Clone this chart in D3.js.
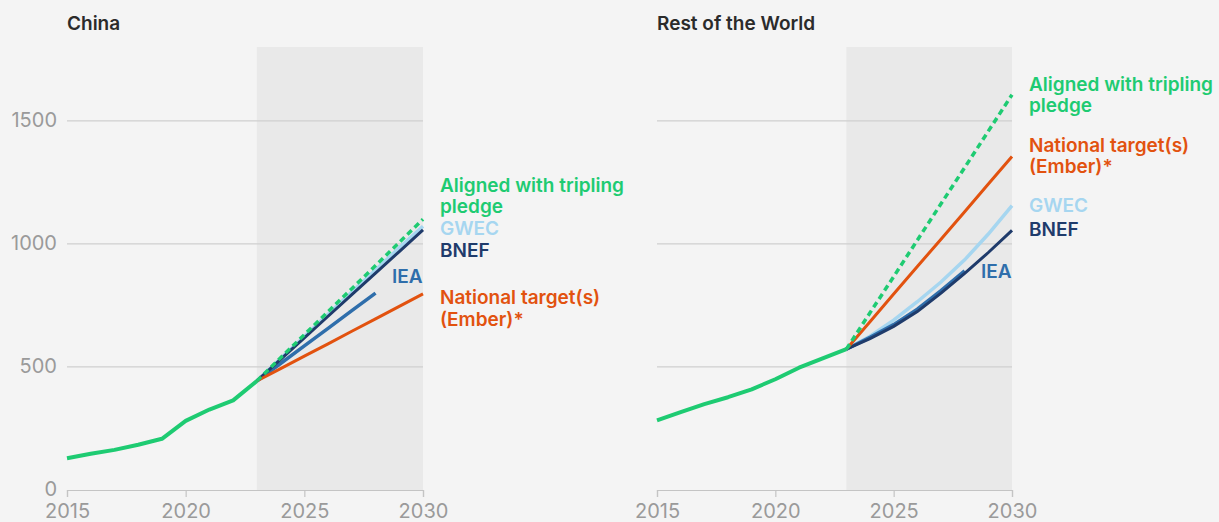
<!DOCTYPE html>
<html>
<head>
<meta charset="utf-8">
<script src="https://cdn.jsdelivr.net/npm/d3@7"></script>
<style>
  body { margin: 0; background: #f4f4f4; }
  svg { display: block; font-family: Inter, "Open Sans", sans-serif; }
</style>
</head>
<body>
<svg width="1219" height="522"></svg>
<script>
// data: wind capacity (GW)
const histYears = [2015, 2016, 2017, 2018, 2019, 2020, 2021, 2022, 2023];
const chinaHist = [129, 147, 163, 184, 208, 281, 327, 364, 443];
const rowHist = [283, 316, 349, 377, 409, 450, 497, 535, 572];

const projYears = [2023, 2024, 2025, 2026, 2027, 2028, 2029, 2030];
const chinaGwec = [443, 534, 624, 714, 804, 894, 984, 1072];
const chinaBnef = [443, 531, 618, 706, 794, 881, 969, 1057];
const chinaIea = [443, 514, 586, 657, 729, 800];
const chinaNational = [443, 493, 544, 594, 645, 695, 746, 797];
const chinaTripling = [443, 537, 631, 725, 818, 912, 1006, 1100];

const rowGwec = [572, 625, 690, 765, 845, 935, 1040, 1155];
const rowBnef = [572, 615, 665, 725, 800, 880, 965, 1055];
const rowIea = [572, 620, 672, 735, 810, 890];
const rowNational = [572, 684, 796, 908, 1019, 1131, 1243, 1355];
const rowTripling = [572, 720, 867, 1015, 1163, 1310, 1458, 1606];

const yTicks = [0, 500, 1000, 1500];
const xTicks = [2015, 2020, 2025, 2030];

const colors = {
  tripling: "#1ecb72",
  gwec: "#a6d6f0",
  bnef: "#1f3b6b",
  iea: "#2f6eab",
  national: "#e2520f",
  hist: "#1ecb72"
};

const svg = d3.select("svg");
const y = d3.scaleLinear().domain([0, 1800]).range([490, 47]);

const panels = [
  {
    title: "China", x0: 67, x1: 423, yLabels: true,
    hist: chinaHist, gwec: chinaGwec, bnef: chinaBnef, iea: chinaIea,
    national: chinaNational, tripling: chinaTripling,
    labels: [
      {text: "Aligned with tripling", y: 186, c: "tripling"},
      {text: "pledge", y: 207, c: "tripling"},
      {text: "GWEC", y: 229, c: "gwec"},
      {text: "BNEF", y: 251, c: "bnef"},
      {text: "National target(s)", y: 298, c: "national"},
      {text: "(Ember)*", y: 320, c: "national"}
    ],
    ieaLabel: {x: 392, y: 277}
  },
  {
    title: "Rest of the World", x0: 657, x1: 1012, yLabels: false,
    hist: rowHist, gwec: rowGwec, bnef: rowBnef, iea: rowIea,
    national: rowNational, tripling: rowTripling,
    labels: [
      {text: "Aligned with tripling", y: 85, c: "tripling"},
      {text: "pledge", y: 106, c: "tripling"},
      {text: "National target(s)", y: 146, c: "national"},
      {text: "(Ember)*", y: 167, c: "national"},
      {text: "GWEC", y: 206, c: "gwec"},
      {text: "BNEF", y: 230, c: "bnef"}
    ],
    ieaLabel: {x: 981, y: 272}
  }
];

panels.forEach(p => {
  const x = d3.scaleLinear().domain([2015, 2030]).range([p.x0, p.x1]);
  const g = svg.append("g");

  // title
  g.append("text")
    .attr("x", p.x0).attr("y", 30)
    .attr("font-size", 19).attr("font-weight", 600)
    .attr("fill", "#2b2b2b")
    .text(p.title);

  // projection shading
  g.append("rect")
    .attr("x", x(2023)).attr("y", y(1800))
    .attr("width", x(2030) - x(2023)).attr("height", y(0) - y(1800))
    .attr("fill", "#e9e9e9");

  // grid
  g.selectAll(".grid").data(yTicks.slice(1)).enter().append("line")
    .attr("x1", p.x0).attr("x2", p.x1)
    .attr("y1", d => y(d)).attr("y2", d => y(d))
    .attr("stroke", "#cfcfcf").attr("stroke-width", 1.2);

  if (p.yLabels) {
    g.selectAll(".ylab").data(yTicks).enter().append("text")
      .attr("x", p.x0 - 10).attr("y", d => y(d) + 6)
      .attr("text-anchor", "end")
      .attr("font-size", 20).attr("fill", "#9a9a9a")
      .text(d => d);
  }

  // x axis
  const xAxis = d3.axisBottom(x).tickValues(xTicks).tickFormat(d3.format("d"))
    .tickSize(7).tickPadding(7);
  const ax = g.append("g").attr("transform", `translate(0,${y(0)})`).call(xAxis);
  ax.select(".domain").attr("stroke", "#c4c4c4").attr("stroke-width", 1.2);
  ax.selectAll(".tick line").attr("stroke", "#c4c4c4").attr("stroke-width", 1.2);
  ax.selectAll(".tick text").attr("font-size", 20).attr("fill", "#9a9a9a")
    .attr("font-family", "Inter, 'Open Sans', sans-serif");

  const line = d3.line().x(d => x(d[0])).y(d => y(d[1]));
  const pts = vals => vals.map((v, i) => [projYears[i], v]);

  const series = [
    {v: p.gwec, c: colors.gwec, w: 3.5},
    {v: p.iea, c: colors.iea, w: 3.5},
    {v: p.bnef, c: colors.bnef, w: 3},
    {v: p.national, c: colors.national, w: 3},
    {v: p.tripling, c: colors.tripling, w: 3.5, dash: "6,4"}
  ];
  series.forEach(s => {
    g.append("path")
      .datum(pts(s.v))
      .attr("d", line)
      .attr("fill", "none")
      .attr("stroke", s.c)
      .attr("stroke-width", s.w)
      .attr("stroke-dasharray", s.dash || null);
  });

  g.append("path")
    .datum(p.hist.map((v, i) => [histYears[i], v]))
    .attr("d", line)
    .attr("fill", "none")
    .attr("stroke", colors.hist)
    .attr("stroke-width", 4)
    .attr("stroke-linejoin", "round");

  // direct labels
  g.selectAll(".lab").data(p.labels).enter().append("text")
    .attr("x", p.x1 + 17).attr("y", d => d.y + 6)
    .attr("font-size", 19).attr("font-weight", 600)
    .attr("fill", d => colors[d.c])
    .text(d => d.text);

  g.append("text")
    .attr("x", p.ieaLabel.x).attr("y", p.ieaLabel.y + 6)
    .attr("font-size", 19).attr("font-weight", 600)
    .attr("fill", colors.iea)
    .text("IEA");
});
</script>
</body>
</html>
